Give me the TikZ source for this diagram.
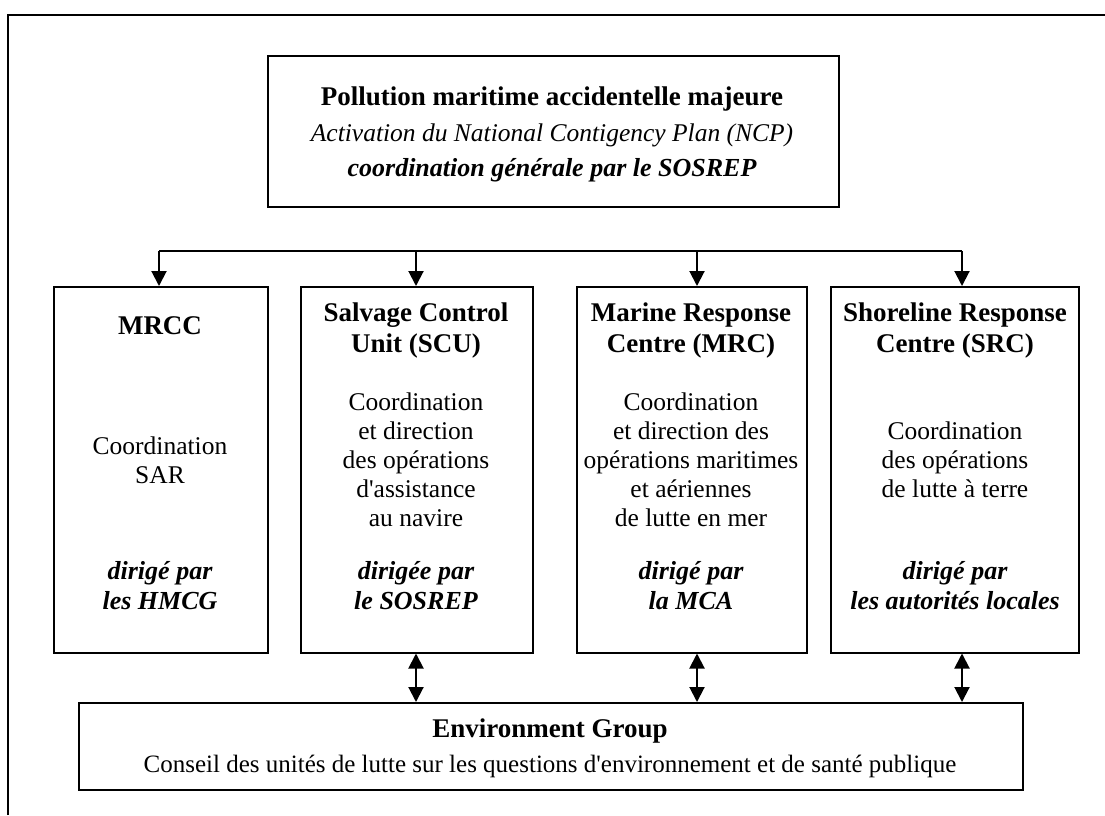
\documentclass[tikz,border=0pt]{standalone}
\usepackage{fontspec}
\setmainfont{Liberation Serif}
\usetikzlibrary{arrows.meta}
\newcommand{\apos}{\textquotesingle}
\begin{document}
\begin{tikzpicture}[x=1pt,y=-1pt,
  box/.style={draw, line width=1.5pt, inner sep=0pt, anchor=north west},
  tip/.tip={Triangle[width=15pt,length=15pt]},
  ar/.style={line width=2pt, -tip},
  dar/.style={line width=2pt, tip-tip},
  tx/.style={anchor=base, inner sep=0pt, font=\fontsize{25.5}{29}\selectfont},
  te/.style={anchor=base, inner sep=0pt, font=\fontsize{25}{29}\selectfont},
  hd/.style={anchor=base, inner sep=0pt, font=\fontsize{27}{31}\selectfont\bfseries},
  bi/.style={anchor=base, inner sep=0pt, font=\fontsize{26}{30}\selectfont\bfseries\itshape},
  it/.style={anchor=base, inner sep=0pt, font=\fontsize{25.5}{29}\selectfont\itshape}
]
\useasboundingbox (0,0) rectangle (1105,815);
% outer frame (top and left)
\draw[line width=1.5pt] (8,815) -- (8,15) -- (1105,15);

% boxes
\node[box, minimum width=571pt, minimum height=151pt] (top) at (267,55) {};
\node[box, minimum width=214pt, minimum height=366pt] (b1) at (53,286) {};
\node[box, minimum width=232pt, minimum height=366pt] (b2) at (300,286) {};
\node[box, minimum width=230pt, minimum height=366pt] (b3) at (576,286) {};
\node[box, minimum width=248pt, minimum height=366pt] (b4) at (830,286) {};
\node[box, minimum width=944pt, minimum height=87pt] (env) at (78,702) {};

% top box text
\node[hd] (t1) at (552,105) {Pollution maritime accidentelle majeure};
\node[it] (t2) at (552,141) {Activation du National Contigency Plan (NCP)};
\node[bi] (t3) at (552,176) {coordination générale par le SOSREP};

% bus and arrows
\coordinate (c1) at (159,251);
\coordinate (c2) at (416,251);
\coordinate (c3) at (697,251);
\coordinate (c4) at (962,251);
\draw[line width=2pt] (c1) -- (c4);
\draw[ar] (c1) -- (c1 |- b1.north);
\draw[ar] (c2) -- (c2 |- b2.north);
\draw[ar] (c3) -- (c3 |- b3.north);
\draw[ar] (c4) -- (c4 |- b4.north);

% double arrows to environment group
\draw[dar] (c2 |- b2.south) -- (c2 |- env.north);
\draw[dar] (c3 |- b3.south) -- (c3 |- env.north);
\draw[dar] (c4 |- b4.south) -- (c4 |- env.north);

% box 1
\node[hd] (m1) at (160,334) {MRCC};
\node[tx] (m2) at (160,454) {Coordination};
\node[tx] (m3) at (160,483) {SAR};
\node[bi] (m4) at (160,579) {dirigé par};
\node[bi] (m5) at (160,609) {les HMCG};

% box 2
\node[hd] (s1) at (416,321) {Salvage Control};
\node[hd] (s2) at (416,352) {Unit (SCU)};
\node[tx] (s3) at (416,410) {Coordination};
\node[tx] (s4) at (416,439) {et direction};
\node[tx] (s5) at (416,468) {des opérations};
\node[tx] (s6) at (416,497) {d\apos assistance};
\node[tx] (s7) at (416,526) {au navire};
\node[bi] (s8) at (416,579) {dirigée par};
\node[bi] (s9) at (416,609) {le SOSREP};

% box 3
\node[hd] (r1) at (691,321) {Marine Response};
\node[hd] (r2) at (691,352) {Centre (MRC)};
\node[tx] (r3) at (691,410) {Coordination};
\node[tx] (r4) at (691,439) {et direction des};
\node[tx] (r5) at (691,468) {opérations maritimes};
\node[tx] (r6) at (691,497) {et aériennes};
\node[tx] (r7) at (691,526) {de lutte en mer};
\node[bi] (r8) at (691,579) {dirigé par};
\node[bi] (r9) at (691,609) {la MCA};

% box 4
\node[hd] (h1) at (955,321) {Shoreline Response};
\node[hd] (h2) at (955,352) {Centre (SRC)};
\node[tx] (h3) at (955,439) {Coordination};
\node[tx] (h4) at (955,468) {des opérations};
\node[tx] (h5) at (955,497) {de lutte à terre};
\node[bi] (h6) at (955,579) {dirigé par};
\node[bi] (h7) at (955,609) {les autorités locales};

% environment group
\node[hd] (e1) at (550,737) {Environment Group};
\node[te] (e2) at (550,772) {Conseil des unités de lutte sur les questions d\apos environnement et de santé publique};
\end{tikzpicture}
\end{document}
